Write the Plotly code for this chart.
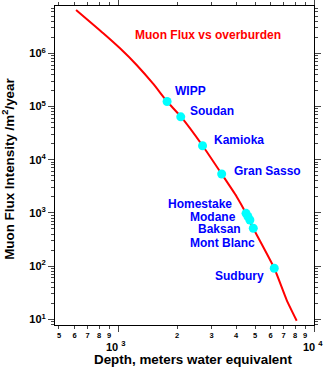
import numpy as np
import plotly.graph_objects as go

# ---- data ----
curve_depth = [611, 841, 1024, 1245, 1514, 1784, 2094, 2703, 3381, 4033, 4498, 4898, 6272, 7256, 8161]
curve_flux = [6.52e6, 2.38e6, 1.24e6, 6.03e5, 2.65e5, 1.23e5, 6.43e4, 1.83e4, 5380, 2018, 982, 514, 91, 23, 9.4]

sites = ["WIPP", "Soudan", "Kamioka", "Gran Sasso", "Homestake", "Modane", "Mont Blanc", "Baksan", "Sudbury"]
site_depth = [1780, 2090, 2700, 3380, 4500, 4600, 4710, 4900, 6270]
site_flux = [1.24e5, 6.4e4, 1.83e4, 5380, 980, 855, 736, 514, 91]

x_minor_labels = ["5", "6", "7", "8", "9", "2", "3", "4", "5", "6", "7", "8", "9"]
x_minor_vals = [500, 600, 700, 800, 900, 2000, 3000, 4000, 5000, 6000, 7000, 8000, 9000]
y_major_exp = [1, 2, 3, 4, 5, 6]

# label placement (styling): anchor side and pixel offsets from the marker
label_style = {
    "WIPP": ("left", 6, 10.7),
    "Soudan": ("left", 7.3, 5.7),
    "Kamioka": ("left", 9, 5.7),
    "Gran Sasso": ("left", 10, 3),
    "Homestake": ("right", -12, 9.3),
    "Modane": ("right", -10.3, 0),
    "Mont Blanc": ("right", 7.3, -23.3),
    "Baksan": ("right", -10, -0.7),
    "Sudbury": ("right", -8.3, -7.4),
}

FONT = "Liberation Sans, Arial, Helvetica, sans-serif"

fig = go.Figure()
fig.add_trace(go.Scatter(x=curve_depth, y=curve_flux, mode="lines",
                         line=dict(color="#ff0000", width=2, shape="spline", smoothing=0.5),
                         hoverinfo="skip"))
fig.add_trace(go.Scatter(x=site_depth, y=site_flux, mode="markers",
                         marker=dict(color="#00ffff", size=9, line=dict(width=0))))

ann = []
for s, d, f in zip(sites, site_depth, site_flux):
    side, dx, dy = label_style[s]
    ann.append(dict(x=np.log10(d), y=np.log10(f), xref="x", yref="y", text="<b>%s</b>" % s,
                    showarrow=False, xanchor=side, yanchor="middle", xshift=dx, yshift=dy,
                    font=dict(family=FONT, size=12, color="#0000ff")))

ann.append(dict(x=0.592, y=0.910, xref="paper", yref="paper", text="<b>Muon Flux vs overburden</b>",
                showarrow=False, xanchor="center", yanchor="middle",
                font=dict(family=FONT, size=12, color="#ff0000")))

for e, sh in [(3, -2), (4, -1.5)]:
    ann.append(dict(x=e, y=-0.066, xref="x", yref="paper", text="<b>10 <sup>%d</sup></b>" % e,
                    showarrow=False, xanchor="center", yanchor="middle", xshift=sh,
                    font=dict(family=FONT, size=11, color="#000000")))

ann.append(dict(x=0.531, y=-0.1066, xref="paper", yref="paper",
                text="<b>Depth, meters water equivalent</b>", showarrow=False,
                xanchor="center", yanchor="middle",
                font=dict(family=FONT, size=13.4, color="#000000")))

ann.append(dict(x=-0.177, y=0.49, xref="paper", yref="paper",
                text="<b>Muon Flux Intensity /m<sup>2</sup>/year</b>", showarrow=False,
                xanchor="center", yanchor="middle", textangle=-90,
                font=dict(family=FONT, size=13.4, color="#000000")))

y_minor = [m * 10 ** k for k in range(0, 7) for m in range(2, 10)]

fig.update_layout(
    width=325, height=367,
    margin=dict(l=55, r=11, t=6, b=42, autoexpand=False),
    paper_bgcolor="white", plot_bgcolor="white",
    showlegend=False,
    annotations=ann,
    font=dict(family=FONT, color="#000000"),
    xaxis=dict(type="log", range=[2.6786, 4.0], showgrid=False, zeroline=False, automargin=False,
               showline=True, linecolor="#000000", linewidth=1, mirror="allticks",
               ticks="outside", ticklen=3, tickcolor="#444444", tickwidth=1,
               tickmode="array", tickvals=x_minor_vals, ticktext=["<b>%s</b>" % t for t in x_minor_labels],
               tickfont=dict(family=FONT, size=7.5, color="#000000"),
               minor=dict(tickmode="array", tickvals=[1000, 10000], ticks="outside", ticklen=6,
                          tickcolor="#444444", showgrid=False)),
    yaxis=dict(type="log", range=[0.893, 6.889], showgrid=False, zeroline=False, automargin=False,
               showline=True, linecolor="#000000", linewidth=1, mirror="allticks",
               ticks="outside", ticklen=6, tickcolor="#444444", tickwidth=1,
               tickmode="array", tickvals=[10 ** e for e in y_major_exp],
               ticktext=["<b>10<sup>%d</sup></b>" % e for e in y_major_exp],
               tickfont=dict(family=FONT, size=11, color="#000000"),
               minor=dict(tickmode="array", tickvals=y_minor, ticks="outside", ticklen=3,
                          tickcolor="#444444", showgrid=False)),
)

fig.write_html("out.html", config={"displayModeBar": False},
               post_script="document.body.style.margin='0px';document.body.style.overflow='hidden';")
